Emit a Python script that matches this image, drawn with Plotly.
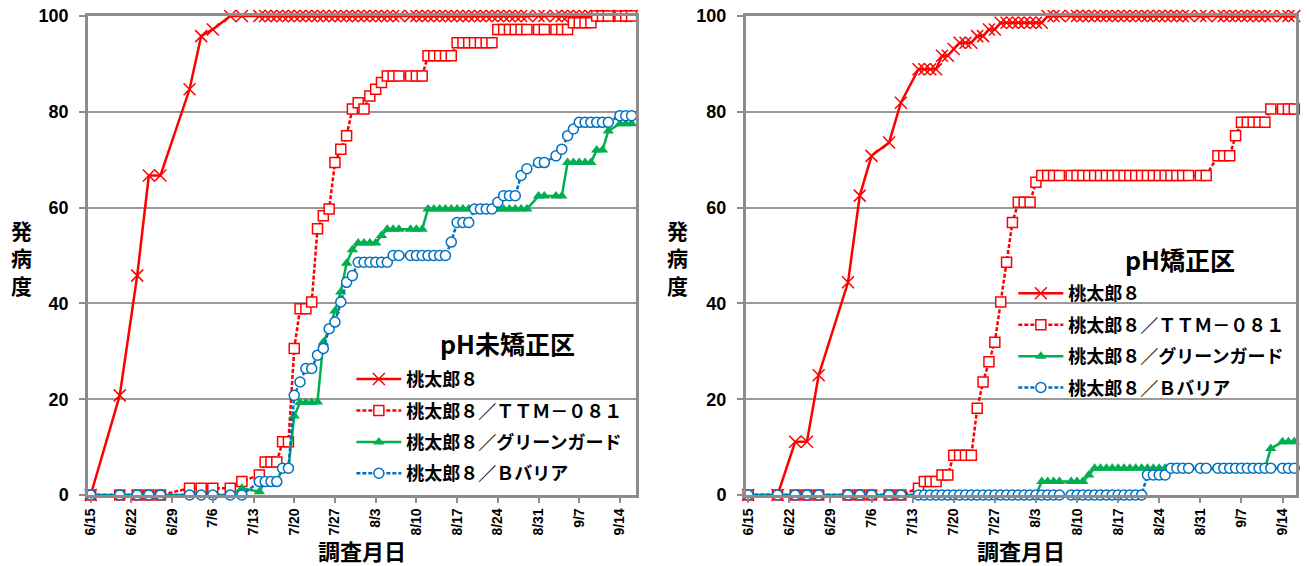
import plotly.graph_objects as go
import pandas as pd

YEAR = "2021"
dates = ["6/15", "6/20", "6/23", "6/25", "6/27", "7/2", "7/4", "7/6", "7/9", "7/11",
         "7/14", "7/15", "7/16", "7/17", "7/18", "7/19", "7/20", "7/21", "7/22", "7/23",
         "7/24", "7/25", "7/26", "7/27", "7/28", "7/29", "7/30", "7/31", "8/1", "8/2",
         "8/3", "8/4", "8/5", "8/6", "8/7", "8/9", "8/10", "8/11", "8/12", "8/13",
         "8/14", "8/15", "8/16", "8/17", "8/18", "8/19", "8/20", "8/21", "8/22", "8/23",
         "8/24", "8/25", "8/26", "8/27", "8/28", "8/29", "8/31", "9/1", "9/3", "9/4",
         "9/5", "9/6", "9/7", "9/8", "9/9", "9/10", "9/11", "9/12", "9/14", "9/15",
         "9/16"]

series_names = ["桃太郎８", "桃太郎８／ＴＴＭ－０８１", "桃太郎８／グリーンガード", "桃太郎８／Ｂバリア"]

# pH未矯正区 (left)
left_momotaro = [0, 20.8, 45.8, 66.7, 66.7, 84.7, 95.8, 97.2, 100, 100,
                 100, 100, 100, 100, 100, 100, 100, 100, 100, 100,
                 100, 100, 100, 100, 100, 100, 100, 100, 100, 100,
                 100, 100, 100, 100, 100, 100, 100, 100, 100, 100,
                 100, 100, 100, 100, 100, 100, 100, 100, 100, 100,
                 100, 100, 100, 100, 100, 100, 100, 100, 100, 100,
                 100, 100, 100, 100, 100, 100, 100, 100, 100, 100,
                 100]
left_ttm = [0, 0, 0, 0, 0, 1.4, 1.4, 1.4, 1.4, 2.8,
            4.2, 6.9, 6.9, 6.9, 11.1, 11.1, 30.6, 38.9, 38.9, 40.3,
            55.6, 58.3, 59.7, 69.4, 72.2, 75.0, 80.6, 81.9, 80.6, 83.3,
            84.7, 86.1, 87.5, 87.5, 87.5, 87.5, 87.5, 87.5, 91.7, 91.7,
            91.7, 91.7, 91.7, 94.4, 94.4, 94.4, 94.4, 94.4, 94.4, 94.4,
            97.2, 97.2, 97.2, 97.2, 97.2, 97.2, 97.2, 97.2, 97.2, 97.2,
            97.2, 98.6, 98.6, 98.6, 98.6, 100, 100, 100, 100, 100,
            100]
left_green = [0, 0, 0, 0, 0, 0, 0, 0, 0, 1.4,
              0.7, 2.8, 2.8, 2.8, 5.6, 5.6, 16.5, 19.3, 19.3, 19.3,
              19.4, 31.9, 34.5, 38.4, 42.4, 48.4, 51.2, 52.6, 52.6, 52.6,
              52.6, 54.2, 55.5, 55.5, 55.5, 55.5, 55.5, 55.5, 59.7, 59.7,
              59.7, 59.7, 59.7, 59.7, 59.7, 59.7, 59.7, 59.7, 59.7, 59.7,
              59.7, 59.7, 59.7, 59.7, 59.7, 59.7, 62.4, 62.4, 62.4, 62.4,
              69.4, 69.4, 69.4, 69.4, 69.4, 72.0, 72.0, 76.0, 77.5, 77.5,
              77.5]
left_bbaria = [0, 0, 0, 0, 0, 0, 0, 0, 0, 0,
               2.8, 2.8, 2.8, 2.8, 5.6, 5.6, 20.8, 23.6, 26.4, 26.4,
               29.2, 30.6, 34.7, 36.1, 40.3, 44.4, 45.8, 48.6, 48.6, 48.6,
               48.6, 48.6, 48.6, 50.0, 50.0, 50.0, 50.0, 50.0, 50.0, 50.0,
               50.0, 50.0, 52.8, 56.9, 56.9, 56.9, 59.7, 59.7, 59.7, 59.7,
               61.1, 62.5, 62.5, 62.5, 66.7, 68.1, 69.4, 69.4, 70.8, 72.2,
               75.0, 76.4, 77.8, 77.8, 77.8, 77.8, 77.8, 77.8, 79.2, 79.2,
               79.2]

# pH矯正区 (right)
right_momotaro = [0, 0, 11.1, 11.1, 25.0, 44.4, 62.5, 70.8, 73.6, 81.9,
                  88.9, 88.9, 88.9, 88.9, 91.7, 91.7, 93.1, 94.4, 94.4, 94.4,
                  95.8, 95.8, 97.2, 97.2, 98.6, 98.6, 98.6, 98.6, 98.6, 98.6,
                  98.6, 98.6, 100, 100, 100, 100, 100, 100, 100, 100,
                  100, 100, 100, 100, 100, 100, 100, 100, 100, 100,
                  100, 100, 100, 100, 100, 100, 100, 100, 100, 100,
                  100, 100, 100, 100, 100, 100, 100, 100, 100, 100,
                  100]
right_ttm = [0, 0, 0, 0, 0, 0, 0, 0, 0, 0,
             1.4, 2.8, 2.8, 2.8, 4.2, 4.2, 8.3, 8.3, 8.3, 8.3,
             18.1, 23.6, 27.8, 31.9, 40.3, 48.6, 56.9, 61.1, 61.1, 61.1,
             65.3, 66.7, 66.7, 66.7, 66.7, 66.7, 66.7, 66.7, 66.7, 66.7,
             66.7, 66.7, 66.7, 66.7, 66.7, 66.7, 66.7, 66.7, 66.7, 66.7,
             66.7, 66.7, 66.7, 66.7, 66.7, 66.7, 66.7, 66.7, 70.8, 70.8,
             70.8, 75.0, 77.8, 77.8, 77.8, 77.8, 77.8, 80.6, 80.6, 80.6,
             80.6]
right_green = [0, 0, 0, 0, 0, 0, 0, 0, 0, 0,
               0, 0, 0, 0, 0, 0, 0, 0, 0, 0,
               0, 0, 0, 0, 0, 0, 0, 0, 0, 0,
               0, 2.8, 2.8, 2.8, 2.8, 2.8, 2.8, 2.8, 4.2, 5.6,
               5.6, 5.6, 5.6, 5.6, 5.6, 5.6, 5.6, 5.6, 5.6, 5.6,
               5.6, 5.6, 5.6, 5.6, 5.6, 5.6, 5.6, 5.6, 5.6, 5.6,
               5.6, 5.6, 5.6, 5.6, 5.6, 5.6, 5.6, 9.7, 11.1, 11.1,
               11.1]
right_bbaria = [0, 0, 0, 0, 0, 0, 0, 0, 0, 0,
                0, 0, 0, 0, 0, 0, 0, 0, 0, 0,
                0, 0, 0, 0, 0, 0, 0, 0, 0, 0,
                0, 0, 0, 0, 0, 0, 0, 0, 0, 0,
                0, 0, 0, 0, 0, 0, 0, 0, 4.2, 4.2,
                4.2, 4.2, 5.6, 5.6, 5.6, 5.6, 5.6, 5.6, 5.6, 5.6,
                5.6, 5.6, 5.6, 5.6, 5.6, 5.6, 5.6, 5.6, 5.6, 5.6,
                5.6]

y_ticks = [0, 20, 40, 60, 80, 100]
x_tick_dates = ["6/15", "6/22", "6/29", "7/6", "7/13", "7/20", "7/27", "8/3",
                "8/10", "8/17", "8/24", "8/31", "9/7", "9/14"]
panel_titles = ["pH未矯正区", "pH矯正区"]
y_title = "発病度"
x_title = "調査月日"

x = pd.to_datetime([YEAR + "/" + d for d in dates])
xt = pd.to_datetime([YEAR + "/" + d for d in x_tick_dates])

RED = "#FF0000"
GREEN = "#00B050"
BLUE = "#0070C0"
JP = "Noto Sans CJK JP"
NUM = "Liberation Sans"

styles = [
    dict(line=dict(color=RED, width=2.5),
         marker=dict(symbol="x-thin", size=12, line=dict(color=RED, width=1.5))),
    dict(line=dict(color=RED, width=2.5, dash="4px,2px"),
         marker=dict(symbol="square", size=10, color="white", line=dict(color=RED, width=1.5))),
    dict(line=dict(color=GREEN, width=2.5),
         marker=dict(symbol="triangle-up", size=10, color=GREEN, line=dict(width=0))),
    dict(line=dict(color=BLUE, width=2.5, dash="4px,2px"),
         marker=dict(symbol="circle", size=10, color="white", line=dict(color=BLUE, width=1.5))),
]

fig = go.Figure()
panels = [
    ("x", "y", "legend", [left_momotaro, left_ttm, left_green, left_bbaria]),
    ("x2", "y2", "legend2", [right_momotaro, right_ttm, right_green, right_bbaria]),
]
for xa, ya, lg, vals in panels:
    for i, (name, v) in enumerate(zip(series_names, vals)):
        fig.add_trace(go.Scatter(
            x=x, y=v, name=name, mode="lines+markers",
            xaxis=xa, yaxis=ya, legend=lg, legendgroup=lg + str(i),
            cliponaxis=False, **styles[i]))

axis_common_x = dict(
    type="date", tickvals=xt, tickformat="%-m/%-d", tickangle=-90,
    tickfont=dict(family=NUM, size=14, color="black", weight="bold"),
    showline=True, mirror=True, linecolor="#8C8C8C", linewidth=2.5,
    ticks="outside", ticklen=5, tickcolor="#8C8C8C", tickwidth=1.5,
    showgrid=False, zeroline=False, automargin=False,
)
axis_common_y = dict(
    range=[0, 100], tickvals=y_ticks,
    tickfont=dict(family=NUM, size=18, color="black", weight="bold"),
    showline=True, mirror=True, linecolor="#8C8C8C", linewidth=2.5,
    ticks="outside", ticklen=6, tickcolor="#8C8C8C", tickwidth=1.5,
    ticklabelstandoff=7, automargin=False,
    showgrid=True, gridcolor="#999999", gridwidth=2, zeroline=False,
)

legend_font = dict(family=JP, size=18, color="black", weight="bold")
fig.update_layout(
    width=1309, height=566,
    margin=dict(l=88, r=13, t=16, b=71, autoexpand=False),
    paper_bgcolor="white", plot_bgcolor="white",
    showlegend=True,
    xaxis=dict(domain=[0, 0.4536], range=["2021-06-14 13:00", "2021-09-16 18:00"], **axis_common_x),
    xaxis2=dict(domain=[0.5445, 1.0], range=["2021-06-14 14:00", "2021-09-16 07:00"], anchor="y2", **axis_common_x),
    yaxis=dict(anchor="x", **axis_common_y),
    yaxis2=dict(anchor="x2", **axis_common_y),
    legend=dict(x=0.218, y=0.28, xanchor="left", yanchor="top", font=legend_font,
                bgcolor="rgba(0,0,0,0)", itemwidth=45, tracegroupgap=5),
    legend2=dict(x=0.766, y=0.459, xanchor="left", yanchor="top", font=legend_font,
                 bgcolor="rgba(0,0,0,0)", itemwidth=45, tracegroupgap=5),
)

def px_x(v):
    return (v - 88) / 1208

def px_y(v):
    return (495 - v) / 479

ann = dict(xref="paper", yref="paper", showarrow=False, xanchor="center", yanchor="middle")
title_font = dict(family=JP, size=25, color="black", weight="bold")
ytitle_font = dict(family=JP, size=21, color="black", weight="bold")
xtitle_font = dict(family=JP, size=22, color="black", weight="bold")

fig.add_annotation(text=panel_titles[0], x=px_x(507), y=px_y(343), font=title_font, **ann)
fig.add_annotation(text=panel_titles[1], x=px_x(1180), y=px_y(259), font=title_font, **ann)
for pxv in (21, 677):
    fig.add_annotation(text="<br>".join(list(y_title)), x=px_x(pxv), y=px_y(257),
                       font=ytitle_font, **ann)
for pxv in (362, 1021):
    fig.add_annotation(text=x_title, x=px_x(pxv), y=px_y(550), font=xtitle_font, **ann)

fig.write_html("out.html", config={"displayModeBar": False},
               post_script="document.body.style.margin='0px';")
